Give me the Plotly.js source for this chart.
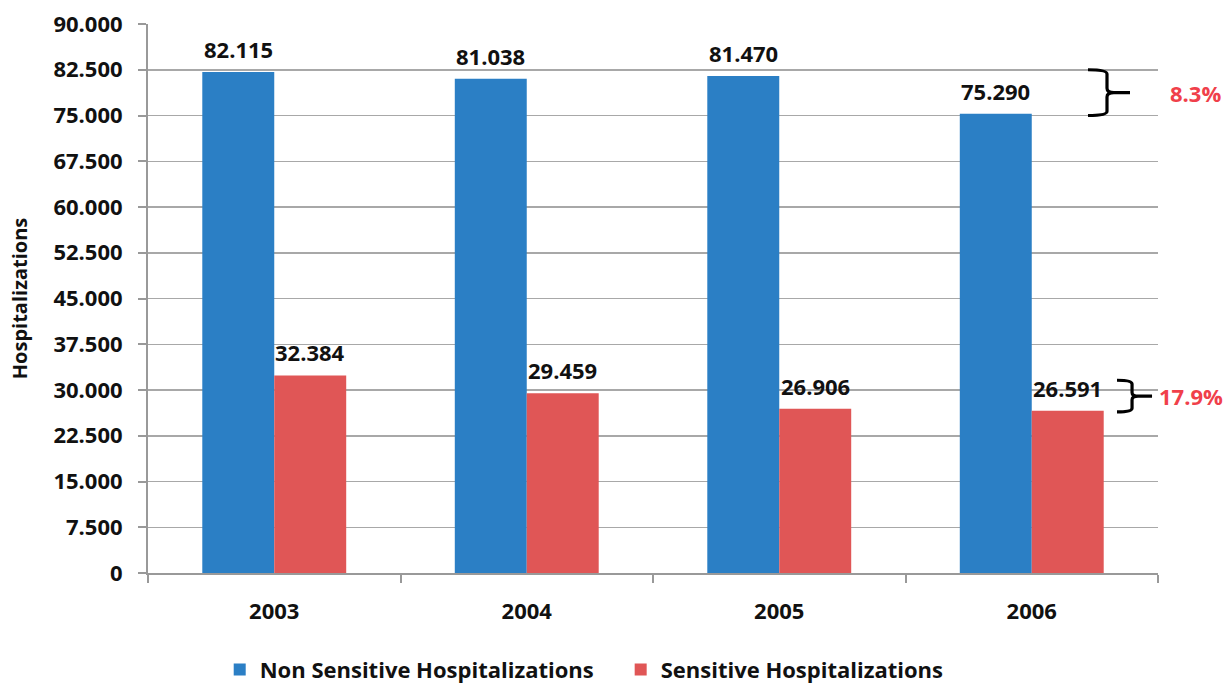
<!DOCTYPE html>
<html>
<head>
<meta charset="utf-8">
<script src="https://cdn.plot.ly/plotly-3.0.1.min.js"></script>
<style>html,body{margin:0;padding:0;background:#fff;}#chart{width:1225px;height:684px;}</style>
</head>
<body>
<div id="chart"></div>
<script>
const years = ["2003", "2004", "2005", "2006"];
const nonSensitive = [82115, 81038, 81470, 75290];
const sensitive = [32384, 29459, 26906, 26591];
const yTicks = [0, 7500, 15000, 22500, 30000, 37500, 45000, 52500, 60000, 67500, 75000, 82500, 90000];
const changeLabels = ["8.3%", "17.9%"];

const FONT = "'Open Sans', Lato, sans-serif";
const BLUE = "#2B7FC5";
const RED = "#E05656";
const PCT_RED = "#F0404A";
const FS = 22;

function fmt(v) {
  return String(v).replace(/\B(?=(\d{3})+(?!\d))/g, ".");
}

const traces = [
  {type: "bar", name: "Non Sensitive Hospitalizations", x: years, y: nonSensitive, marker: {color: BLUE}, legend: "legend"},
  {type: "bar", name: "Sensitive Hospitalizations", x: years, y: sensitive, marker: {color: RED}, legend: "legend2"}
];

function brace(xs, xv, xt, yTop, yBot, r) {
  const ym = (yTop + yBot) / 2;
  const xm = xv + (xt - xv) * 0.3;
  return "M " + xs + "," + yTop +
    " Q " + xv + "," + yTop + " " + xv + "," + (yTop - r) +
    " L " + xv + "," + (ym + r) +
    " Q " + xv + "," + ym + " " + xm + "," + ym +
    " L " + xt + "," + ym +
    " M " + xm + "," + ym +
    " Q " + xv + "," + ym + " " + xv + "," + (ym - r) +
    " L " + xv + "," + (yBot + r) +
    " Q " + xv + "," + yBot + " " + xs + "," + yBot;
}

const b1 = {top: 82500, bot: 75000};
const b2 = {top: 31600, bot: 26400};

const valueLabels = [];
[nonSensitive, sensitive].forEach((series, si) => {
  series.forEach((v, i) => {
    valueLabels.push({
      xref: "x", yref: "y", x: i, y: v, xshift: si === 0 ? -36 : 36, yshift: 6,
      xanchor: "center", yanchor: "bottom", text: fmt(v), showarrow: false,
      font: {family: FONT, size: FS, color: "#111", weight: "bold"}
    });
  });
});

const legendBase = {
  orientation: "h", xanchor: "left", y: -0.138, yanchor: "top",
  font: {family: FONT, size: FS, color: "#111", weight: "bold"}, itemwidth: 30,
  bgcolor: "rgba(0,0,0,0)", borderwidth: 0
};

const layout = {
  width: 1225, height: 684,
  margin: {l: 148, r: 67, t: 24, b: 111, autoexpand: false},
  paper_bgcolor: "#fff", plot_bgcolor: "#fff",
  font: {family: FONT, color: "#111"},
  barmode: "group", bargap: 0.43, bargroupgap: 0,
  showlegend: true,
  legend: Object.assign({}, legendBase, {x: 0.071}),
  legend2: Object.assign({}, legendBase, {x: 0.468}),
  xaxis: {
    type: "category", range: [-0.5, 3.5], showline: true, linecolor: "#999", linewidth: 2,
    ticks: "outside", tickson: "boundaries", ticklen: 8, tickcolor: "#999", tickwidth: 2,
    tickfont: {family: FONT, size: FS, color: "#111", weight: "bold"}, ticklabelstandoff: 18,
    showgrid: false, zeroline: false
  },
  yaxis: {
    range: [0, 90000], tickvals: yTicks, ticktext: yTicks.map(v => fmt(v)),
    showline: true, linecolor: "#999", linewidth: 2,
    ticks: "outside", ticklen: 8, tickcolor: "#999", tickwidth: 2,
    showgrid: true, gridcolor: "#A8A8A8", gridwidth: 1.5, zeroline: false,
    tickfont: {family: FONT, size: FS, color: "#111", weight: "bold"}, ticklabelstandoff: 11,
    title: {text: "Hospitalizations", font: {family: FONT, size: 20, color: "#111", weight: "bold"}, standoff: 20}
  },
  shapes: [
    {type: "path", xref: "paper", yref: "y", path: brace(0.9307, 0.9495, 0.9723, b1.top, b1.bot, 700),
      line: {color: "#000", width: 3.2}},
    {type: "path", xref: "paper", yref: "y", path: brace(0.9594, 0.9743, 0.9941, b2.top, b2.bot, 600),
      line: {color: "#000", width: 3.2}}
  ],
  annotations: valueLabels.concat([
    {xref: "paper", yref: "y", x: 1.0099, y: (b1.top + b1.bot) / 2, xanchor: "left", yanchor: "middle",
      text: changeLabels[0], showarrow: false, font: {family: FONT, size: FS, color: PCT_RED, weight: "bold"}},
    {xref: "paper", yref: "y", x: 0.9995, y: (b2.top + b2.bot) / 2, xanchor: "left", yanchor: "middle",
      text: changeLabels[1], showarrow: false, font: {family: FONT, size: FS, color: PCT_RED, weight: "bold"}}
  ])
};

Plotly.newPlot("chart", traces, layout, {displayModeBar: false, staticPlot: true});
</script>
</body>
</html>
